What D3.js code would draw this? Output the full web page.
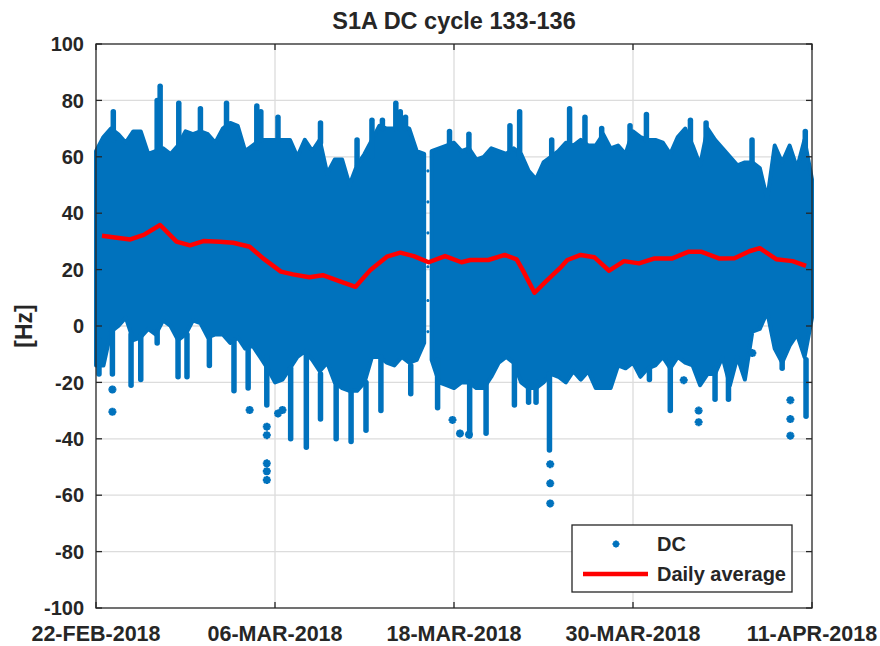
<!DOCTYPE html>
<html>
<head>
<meta charset="utf-8">
<script src="https://cdn.jsdelivr.net/npm/d3@7"></script>
<style>
body { margin: 0; background: #fff; }
text { font-family: "Liberation Sans", Arial, sans-serif; font-weight: bold; fill: #262626; }
</style>
</head>
<body>
<div id="chart"></div>
<script>
const WIDTH = 880
const HEIGHT = 646
const MARGIN = {left: 96, right: 68, top: 44, bottom: 38}
const START = Date.UTC(2018, 1, 22)
const DAY = 864e5

// x tick positions, in days after 22-FEB-2018
const xTickDays = [0, 12, 24, 36, 48]
const yTicks = [-100, -80, -60, -40, -20, 0, 20, 40, 60, 80, 100]

// dense part of the DC cloud, sampled every half day (day = index / 2)
// first block: day 0 .. 22, second block: day 22.5 .. 48 (gap in between)
const cloudHi = [
    62, 67, 70, 68, 65, 69, 69, 61, 62, 63, 61, 64, 69, 68, 69, 68, 65, 70, 72, 71,
    62, 64, 66, 66, 66, 66, 66, 60, 66, 62, 66, 54, 59, 59, 50, 57, 61, 66, 71, 70,
    70, 71, 70, 62, 61,
    62, 63, 64, 65, 62, 63, 59, 60, 63, 62, 61, 63, 61, 55, 52, 58, 60, 62, 65, 64,
    66, 64, 64, 68, 63, 64, 61, 69, 67, 66, 66, 65, 61, 67, 70, 64, 57, 70, 66, 63,
    60, 57, 58, 58, 56, 45, 64, 58, 64, 56, 66, 52
]
const cloudLo = [
    -14, -14, -2, 0, 3, -5, -4, -1, -3, 2, 0, -5, -3, 2, 1, -4, -3, -3, -6, -4,
    -8, -7, -11, -15, -20, -19, -15, -11, -9, -12, -16, -13, -20, -22, -23, -23, -20, -11, -11, -13,
    -14, -11, -13, -12, -6,
    -12, -20, -21, -22, -20, -20, -22, -22, -18, -13, -11, -13, -20, -22, -22, -20, -17, -18, -20, -16,
    -19, -16, -22, -22, -22, -14, -15, -13, -18, -15, -14, -11, -15, -11, -13, -14, -21, -17, -17, -11,
    -21, -11, -19, -2, -1, 5, -8, -13, -7, -3, -11, 3
]
const gapAfter = 44   // last index before the data gap on 16-MAR

// columns of stacked DC points reaching out of the dense part: [day, from, to]
const streaks = [
    [1.16, 66, 76], [4.1, 62, 80], [4.3, 62, 85], [5.55, 62, 79], [7.0, 68, 77],
    [8.75, 70, 79], [10.78, 63, 78], [11.05, 66, 76], [12.2, 66, 74], [15.05, 65, 72],
    [17.5, 57, 66], [18.5, 60, 73], [19.2, 70, 73], [20.1, 70, 79], [20.4, 70, 76],
    [20.75, 70, 74], [23.7, 64, 69], [25.0, 62, 68], [27.75, 62, 71], [28.4, 60, 76],
    [30.55, 55, 66], [31.75, 64, 77], [32.78, 65, 74], [33.9, 63, 70], [35.8, 63, 71],
    [36.9, 66, 75], [39.85, 64, 73], [40.9, 64, 72], [43.98, 58, 66], [47.55, 56, 69],
    [0.2, -5, -17], [1.1, 0, -17], [2.35, -3, -21], [3.0, -3, -19], [4.1, -2, -6],
    [5.5, -5, -18], [6.1, -3, -18], [7.6, -4, -14], [9.25, -5, -23], [10.2, -8, -22],
    [11.45, -11, -28], [13.05, -15, -40], [14.1, -9, -43], [15.05, -17, -33], [16.1, -20, -40],
    [17.1, -23, -41], [18.1, -20, -37], [19.1, -11, -30], [21.1, -14, -24], [22.9, -12, -29],
    [25.05, -20, -39], [26.15, -20, -38], [28.05, -13, -28], [29.0, -20, -27], [29.5, -20, -27],
    [30.4, -17, -44], [37.1, -15, -19], [38.5, -12, -30], [41.5, -15, -26], [42.4, -15, -26],
    [46.0, -12, -15], [47.6, -12, -32]
]

// single DC points away from the cloud: [day, value]
const singles = [
    [1.1, -22.5], [1.1, -30.4], [10.3, -29.8], [11.45, -35.7], [11.45, -38.7],
    [11.45, -48.7], [11.45, -51.5], [11.45, -54.6], [12.2, -31], [12.5, -29.8],
    [23.9, -33.3], [24.4, -38.1], [25.0, -38.5], [30.45, -49], [30.45, -55.8],
    [30.45, -62.9], [39.4, -19.2], [40.4, -30], [40.4, -34.1], [44.0, -9.6],
    [46.55, -26.3], [46.55, -33], [46.55, -38.9]
]
// sparse points inside the 16-MAR gap: [day, value]
const gapPoints = [[22.25, 55], [22.25, 44], [22.25, 33], [22.25, 21], [22.25, 9], [22.25, -2]]

// daily average
const avgDays = [
    0.4, 1.4, 2.3, 3.2, 4.3, 5.4, 6.3, 7.2, 8.3, 9.2, 10.3, 11.2, 12.4, 13.2, 14.3,
    15.2, 16.4, 17.4, 18.4, 19.5, 20.4, 21.3, 22.3, 23.4, 24.5, 25.1, 26.3, 27.4, 28.2, 28.6,
    29.4, 30.2, 31.1, 31.6, 32.5, 33.4, 34.4, 35.4, 36.4, 37.4, 38.6, 39.7, 40.6, 41.8, 42.8,
    43.8, 44.5, 45.6, 46.7, 47.6
]
const avgValues = [
    32.0, 31.3, 30.7, 32.3, 35.8, 29.9, 28.6, 30.1, 29.9, 29.5, 28.1, 24.0, 19.3, 18.3, 17.3,
    18.0, 15.7, 13.9, 19.9, 24.6, 26.0, 24.8, 22.6, 24.8, 22.6, 23.4, 23.4, 25.2, 23.6, 19.9,
    11.8, 16.0, 20.5, 23.4, 25.2, 24.4, 19.6, 23.0, 22.2, 23.9, 23.9, 26.3, 26.3, 23.9, 24.0,
    26.5, 27.6, 23.7, 23.0, 21.3
]

const BLUE = "#0072BD"
const RED = "#FF0000"
const AXIS = "#262626"

function day_to_date(d) {
    return new Date(START + d * DAY)
}

function asterisk(r) {
    const a = r * 0.7071
    return `M${-r},0L${r},0M0,${-r}L0,${r}M${-a},${-a}L${a},${a}M${-a},${a}L${a},${-a}`
}

const svg = d3.select("#chart")
    .append("svg")
    .attr("width", WIDTH)
    .attr("height", HEIGHT)

const x = d3.scaleUtc()
    .domain([day_to_date(0), day_to_date(48)])
    .range([MARGIN.left, WIDTH - MARGIN.right])
const y = d3.scaleLinear()
    .domain([-100, 100])
    .range([HEIGHT - MARGIN.bottom, MARGIN.top])

const x0 = MARGIN.left, x1 = WIDTH - MARGIN.right
const y0 = MARGIN.top, y1 = HEIGHT - MARGIN.bottom
const fmt = d3.utcFormat("%d-%b-%Y")

// grid
svg.append("g")
    .selectAll("line")
    .data(xTickDays.slice(1, -1))
    .enter().append("line")
    .attr("x1", d => x(day_to_date(d))).attr("x2", d => x(day_to_date(d)))
    .attr("y1", y0).attr("y2", y1)
    .attr("stroke", "#dcdcdc").attr("stroke-width", 1.3)
svg.append("g")
    .selectAll("line")
    .data(yTicks.slice(1, -1))
    .enter().append("line")
    .attr("x1", x0).attr("x2", x1)
    .attr("y1", d => y(d)).attr("y2", d => y(d))
    .attr("stroke", "#dcdcdc").attr("stroke-width", 1.3)

// DC cloud
const cloudRows = cloudHi.map((h, i) => ({day: i / 2, hi: h, lo: cloudLo[i], seg: i > gapAfter ? 1 : 0}))
const area = d3.area()
    .x(d => x(day_to_date(d.day)))
    .y0(d => y(d.lo))
    .y1(d => y(d.hi))
const $cloud = svg.append("g")
$cloud.selectAll("path.cloud")
    .data([cloudRows.filter(d => d.seg == 0), cloudRows.filter(d => d.seg == 1)])
    .enter().append("path")
    .attr("class", "cloud")
    .attr("d", area)
    .attr("fill", BLUE)
    .attr("stroke", BLUE)
    .attr("stroke-width", 4)
    .attr("stroke-linejoin", "round")

$cloud.selectAll("line.streak")
    .data(streaks)
    .enter().append("line")
    .attr("class", "streak")
    .attr("x1", d => x(day_to_date(d[0]))).attr("x2", d => x(day_to_date(d[0])))
    .attr("y1", d => y(d[1])).attr("y2", d => y(d[2]))
    .attr("stroke", BLUE)
    .attr("stroke-width", 5.5)
    .attr("stroke-linecap", "round")

$cloud.selectAll("path.single")
    .data(singles)
    .enter().append("path")
    .attr("class", "single")
    .attr("d", asterisk(4))
    .attr("transform", d => `translate(${x(day_to_date(d[0]))},${y(d[1])})`)
    .attr("stroke", BLUE)
    .attr("stroke-width", 2.4)
    .attr("fill", "none")

$cloud.selectAll("path.gap")
    .data(gapPoints)
    .enter().append("path")
    .attr("class", "gap")
    .attr("d", asterisk(1.5))
    .attr("transform", d => `translate(${x(day_to_date(d[0]))},${y(d[1])})`)
    .attr("stroke", BLUE)
    .attr("stroke-width", 1.2)
    .attr("fill", "none")

// daily average
const line = d3.line()
    .x((d, i) => x(day_to_date(avgDays[i])))
    .y(d => y(d))
svg.append("path")
    .datum(avgValues)
    .attr("d", line)
    .attr("fill", "none")
    .attr("stroke", RED)
    .attr("stroke-width", 4.5)
    .attr("stroke-linejoin", "round")

// axes box and inward ticks
svg.append("rect")
    .attr("x", x0).attr("y", y0)
    .attr("width", x1 - x0).attr("height", y1 - y0)
    .attr("fill", "none").attr("stroke", AXIS).attr("stroke-width", 1.3)

const TICK = 6
const $ticks = svg.append("g").attr("stroke", AXIS).attr("stroke-width", 1.3)
yTicks.forEach(t => {
    $ticks.append("line").attr("x1", x0).attr("x2", x0 + TICK).attr("y1", y(t)).attr("y2", y(t))
    $ticks.append("line").attr("x1", x1).attr("x2", x1 - TICK).attr("y1", y(t)).attr("y2", y(t))
})
xTickDays.forEach(t => {
    const xx = x(day_to_date(t))
    $ticks.append("line").attr("x1", xx).attr("x2", xx).attr("y1", y1).attr("y2", y1 - TICK)
    $ticks.append("line").attr("x1", xx).attr("x2", xx).attr("y1", y0).attr("y2", y0 + TICK)
})

// tick labels
svg.append("g")
    .selectAll("text")
    .data(yTicks)
    .enter().append("text")
    .attr("x", x0 - 12)
    .attr("y", d => y(d))
    .attr("dy", "0.36em")
    .attr("text-anchor", "end")
    .style("font-size", "20px")
    .text(d => d)

svg.append("g")
    .selectAll("text")
    .data(xTickDays)
    .enter().append("text")
    .attr("x", d => x(day_to_date(d)))
    .attr("y", y1 + 33)
    .attr("text-anchor", "middle")
    .style("font-size", "21.5px")
    .text(d => fmt(day_to_date(d)).toUpperCase())

// title and y label
svg.append("text")
    .attr("x", (x0 + x1) / 2)
    .attr("y", 29)
    .attr("text-anchor", "middle")
    .style("font-size", "23.5px")
    .text("S1A DC cycle 133-136")

svg.append("text")
    .attr("transform", `translate(32,${(y0 + y1) / 2}) rotate(-90)`)
    .attr("text-anchor", "middle")
    .style("font-size", "23px")
    .text("[Hz]")

// legend
const $legend = svg.append("g").attr("transform", "translate(572,525)")
$legend.append("rect")
    .attr("width", 220).attr("height", 67)
    .attr("fill", "#fff").attr("stroke", AXIS).attr("stroke-width", 1.3)
$legend.append("path")
    .attr("d", asterisk(3.5))
    .attr("transform", "translate(44,19)")
    .attr("stroke", BLUE).attr("stroke-width", 2).attr("fill", "none")
$legend.append("line")
    .attr("x1", 11).attr("x2", 76).attr("y1", 49).attr("y2", 49)
    .attr("stroke", RED).attr("stroke-width", 4.5)
$legend.append("text").attr("x", 85).attr("y", 19).attr("dy", "0.36em").style("font-size", "20px").text("DC")
$legend.append("text").attr("x", 85).attr("y", 49).attr("dy", "0.36em").style("font-size", "20px").text("Daily average")
</script>
</body>
</html>
